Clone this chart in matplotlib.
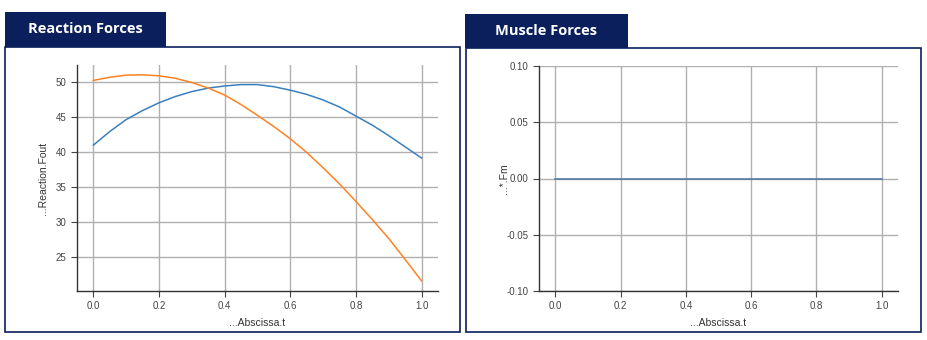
import numpy as np
import matplotlib
matplotlib.use('Agg')
import matplotlib.pyplot as plt
from matplotlib.patches import Rectangle

# data
t = [0.0, 0.05, 0.1, 0.15, 0.2, 0.25, 0.3, 0.35, 0.4, 0.45, 0.5,
     0.55, 0.6, 0.65, 0.7, 0.75, 0.8, 0.85, 0.9, 0.95, 1.0]
fout_1 = [40.95, 42.9, 44.6, 45.9, 47.0, 47.9, 48.6, 49.1, 49.4, 49.6, 49.6,
          49.3, 48.8, 48.2, 47.4, 46.4, 45.1, 43.8, 42.3, 40.7, 39.1]
fout_2 = [50.2, 50.65, 50.95, 51.0, 50.85, 50.5, 49.9, 49.1, 48.1, 46.75, 45.2,
          43.6, 41.85, 39.9, 37.7, 35.4, 32.9, 30.3, 27.6, 24.6, 21.55]
t_m = [0.0, 1.0]
fm = [0.0, 0.0]

left_ticks = [25, 30, 35, 40, 45, 50]
right_ticks = [-0.10, -0.05, 0.00, 0.05, 0.10]
x_ticks = [0.0, 0.2, 0.4, 0.6, 0.8, 1.0]

W, H = 928, 340
navy = '#0b1f5c'
plt.rcParams['font.family'] = ['Liberation Sans', 'DejaVu Sans']

fig = plt.figure(figsize=(W / 100, H / 100), dpi=100)

def px_rect(x0, y0, x1, y1, **kw):
    r = Rectangle((x0 / W, 1 - y1 / H), (x1 - x0) / W, (y1 - y0) / H,
                  transform=fig.transFigure, **kw)
    fig.add_artist(r)

def px_ax(x0, y0, x1, y1):
    return fig.add_axes([x0 / W, 1 - y1 / H, (x1 - x0) / W, (y1 - y0) / H])

# panel frames and headers
px_rect(5.5, 46.5, 460, 332, fill=False, edgecolor=navy, lw=1.2)
px_rect(465.5, 47.5, 921, 332, fill=False, edgecolor=navy, lw=1.2)
px_rect(5, 12, 166, 47, facecolor=navy, edgecolor='none')
px_rect(465, 14, 628, 48, facecolor=navy, edgecolor='none')
fig.text(85 / W, 1 - 29 / H, 'Reaction Forces', color='white', fontsize=10.5,
         fontweight='bold', ha='center', va='center', family='Open Sans')
fig.text(546 / W, 1 - 31 / H, 'Muscle Forces', color='white', fontsize=10.5,
         fontweight='bold', ha='center', va='center', family='Open Sans')

def style(ax):
    for s in ['top', 'right']:
        ax.spines[s].set_visible(False)
    for s in ['left', 'bottom']:
        ax.spines[s].set_color('#333333')
        ax.spines[s].set_linewidth(1.0)
    ax.grid(True, color='#b0b0b0', lw=1.0)
    ax.set_axisbelow(True)
    ax.tick_params(labelsize=7, colors='#444444', length=4, width=0.8)
    ax.set_xlim(-0.05, 1.05)
    ax.set_xticks(x_ticks)
    ax.set_xticklabels(['%.1f' % v for v in x_ticks])
    ax.set_xlabel('...Abscissa.t', fontsize=7.5, color='#333333', labelpad=4.5)

ax1 = px_ax(77, 65, 438, 291)
style(ax1)
ax1.plot(t, fout_1, color='#3b7fbd', lw=1.1)
ax1.plot(t, fout_2, color='#ff8222', lw=1.1)
ax1.set_ylim(20.1, 52.4)
ax1.set_yticks(left_ticks)
ax1.set_ylabel('...Reaction.Fout', fontsize=7.5, color='#333333', labelpad=5.5)

ax2 = px_ax(539, 66, 898, 291)
style(ax2)
ax2.plot(t_m, fm, color='#4a72a0', lw=1.1)
ax2.set_ylim(-0.1, 0.1)
ax2.set_yticks(right_ticks)
ax2.set_yticklabels(['%.2f' % v for v in right_ticks])
ax2.set_ylabel('...*.Fm', fontsize=7.5, color='#333333', labelpad=-1.5)

fig.savefig('out.png', dpi=100)
